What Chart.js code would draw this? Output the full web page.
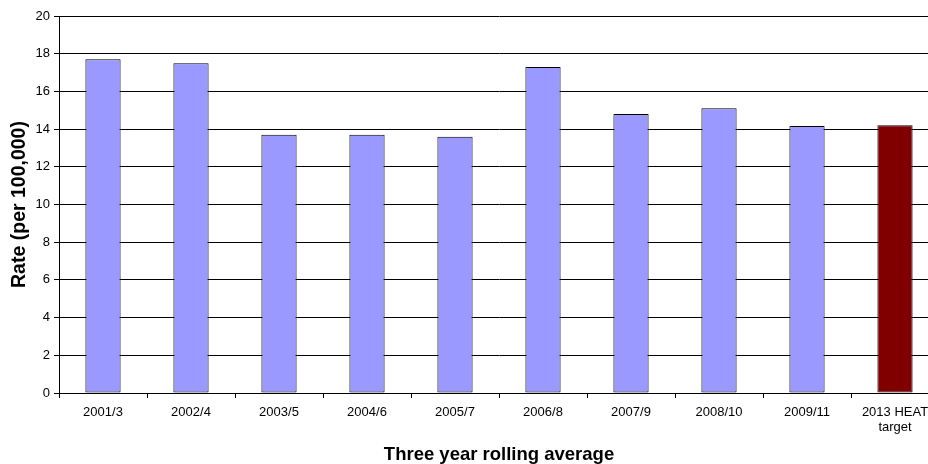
<!DOCTYPE html>
<html>
<head>
<meta charset="utf-8">
<script src="https://cdn.jsdelivr.net/npm/chart.js@4/dist/chart.umd.min.js"></script>
<style>
  html, body { margin: 0; padding: 0; background: #fff; overflow: hidden; }
  #wrap { width: 928px; height: 464px; overflow: hidden; }
</style>
</head>
<body>
<div id="wrap"><canvas id="rateChart" width="940" height="464"></canvas></div>
<script>
// Three year rolling average rates (per 100,000)
const periods = ['2001/3', '2002/4', '2003/5', '2004/6', '2005/7', '2006/8', '2007/9', '2008/10', '2009/11', ['2013 HEAT', 'target']];
const rates = [17.7, 17.5, 13.7, 13.7, 13.6, 17.3, 14.8, 15.1, 14.16, 14.2];
const barColours = ['#9999ff', '#9999ff', '#9999ff', '#9999ff', '#9999ff', '#9999ff', '#9999ff', '#9999ff', '#9999ff', '#800000'];

const fontFamily = '"Liberation Sans", Arial, sans-serif';

function initializeChart() {
    const ctx = document.getElementById('rateChart').getContext('2d');
    new Chart(ctx, {
        type: 'bar',
        data: {
            labels: periods,
            datasets: [{
                data: rates,
                backgroundColor: barColours,
                borderColor: '#000',
                borderWidth: 1,
                borderSkipped: false,
                barPercentage: 0.4,
                categoryPercentage: 1.0
            }]
        },
        options: {
            responsive: false,
            devicePixelRatio: 1,
            animation: false,
            layout: { padding: { top: 16, right: 1, bottom: 0, left: 0 } },
            plugins: {
                legend: { display: false },
                tooltip: { enabled: false }
            },
            scales: {
                x: {
                    offset: true,
                    grid: {
                        offset: true,
                        drawOnChartArea: false,
                        drawTicks: true,
                        tickLength: 5,
                        color: '#000'
                    },
                    border: { color: '#000', width: 1 },
                    ticks: {
                        color: '#000',
                        font: { family: fontFamily, size: 13, lineHeight: 1.15 },
                        padding: 7,
                        maxRotation: 0,
                        autoSkip: false
                    },
                    title: {
                        display: true,
                        text: 'Three year rolling average',
                        color: '#000',
                        font: { family: fontFamily, size: 18.5, weight: 'bold', lineHeight: 1 },
                        padding: { top: 4, bottom: 0 }
                    },
                    afterFit: function(scale) { scale.height = 71; }
                },
                y: {
                    min: 0,
                    max: 20,
                    ticks: {
                        stepSize: 2,
                        color: '#000',
                        font: { family: fontFamily, size: 13 },
                        padding: 4
                    },
                    grid: {
                        color: '#000',
                        lineWidth: 1,
                        tickLength: 5
                    },
                    border: { color: '#000', width: 1 },
                    title: {
                        display: true,
                        text: 'Rate (per 100,000)',
                        color: '#000',
                        font: { family: fontFamily, size: 19.5, weight: 'bold', lineHeight: 1 },
                        padding: { top: 9.5, bottom: 4 }
                    },
                    afterFit: function(scale) { scale.width = 59; }
                }
            }
        }
    });
}

document.addEventListener('DOMContentLoaded', initializeChart);
</script>
</body>
</html>
